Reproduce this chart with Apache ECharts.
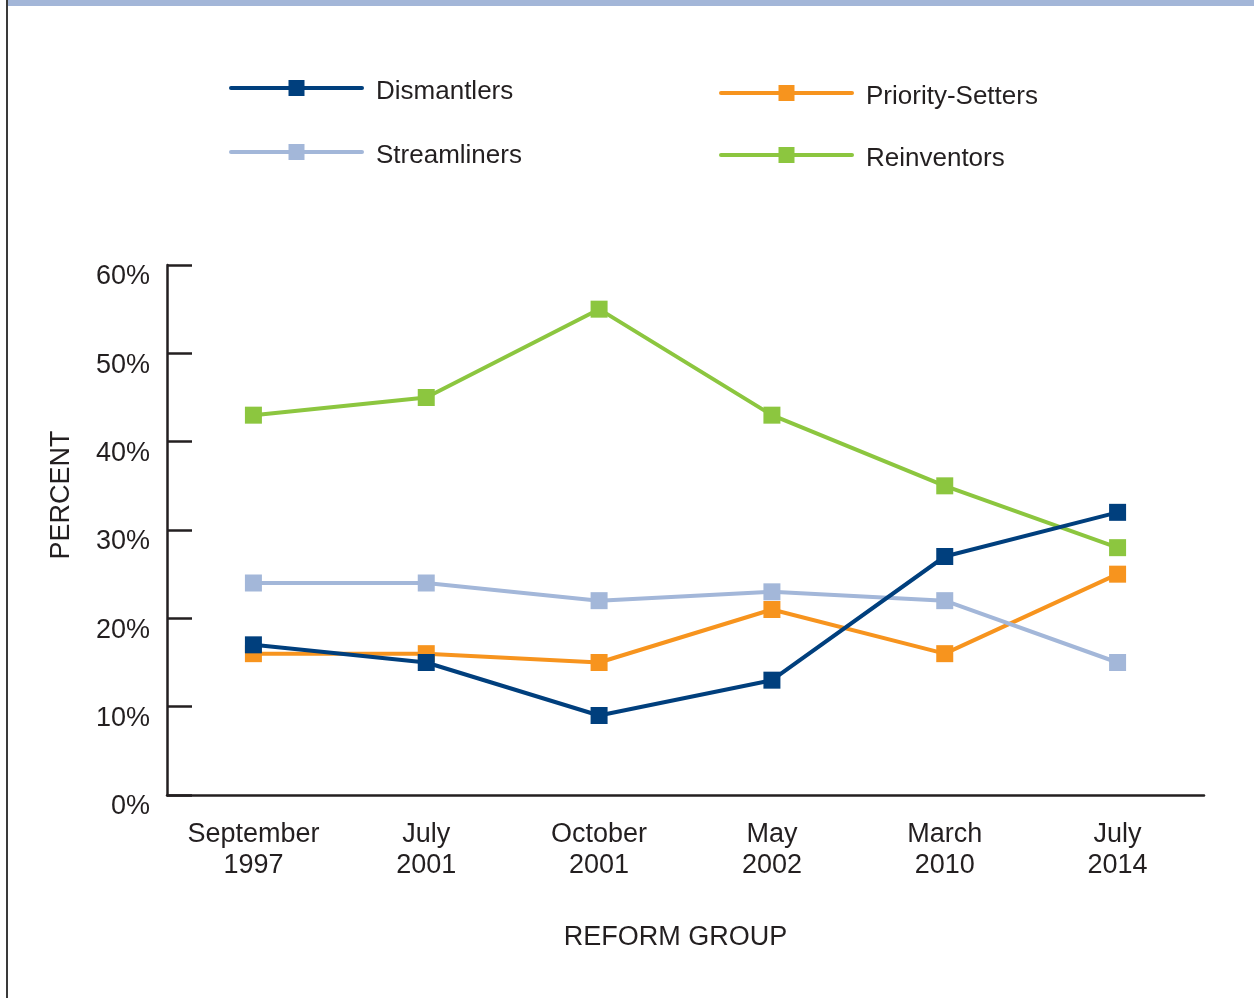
<!DOCTYPE html>
<html>
<head>
<meta charset="utf-8">
<title>Reform group</title>
<script src="https://cdn.jsdelivr.net/npm/echarts@6/dist/echarts.min.js"></script>
<style>
    html, body {
        margin: 0;
        padding: 0;
        background: #fff;
    }
    #chart {
        width: 1254px;
        height: 998px;
    }
</style>
</head>
<body>
<div id="chart"></div>
<script>
// categories (x axis)
let categories = ['September\n1997', 'July\n2001', 'October\n2001', 'May\n2002', 'March\n2010', 'July\n2014']
// series values, percent
let dismantlers = [17, 15, 9, 13, 27, 32]
let streamliners = [24, 24, 22, 23, 22, 15]
let prioritySetters = [16, 16, 15, 21, 16, 25]
let reinventors = [43, 45, 55, 43, 35, 28]
// y axis ticks
let yMin = 0
let yMax = 60
let yStep = 10

let colors = ['#003f7d', '#a3b7d9', '#f7941e', '#8cc63f']
let textColor = '#231f20'
let font = 'Liberation Sans, Arial, sans-serif'
let fontSize = 27

let myChart = echarts.init(document.getElementById('chart'))

let makeSeries = (name, data, color, z) => {
    return {
        name: name,
        type: 'line',
        data: data,
        symbol: 'rect',
        symbolSize: 17,
        z: z,
        itemStyle: {
            color: color
        },
        lineStyle: {
            width: 4,
            color: color,
            cap: 'round'
        }
    }
}

let makeLegend = (name, left, top) => {
    return {
        data: [name],
        left: left,
        top: top,
        padding: 0,
        itemWidth: 131,
        itemHeight: 20,
        selectedMode: false,
        lineStyle: {
            width: 4,
            cap: 'round'
        },
        // rich text so the label sits a bit lower than the icon, like the original
        formatter: '{t|{name}}',
        textStyle: {
            fontSize: 26,
            fontFamily: font,
            color: textColor,
            rich: {
                t: {
                    fontSize: 26,
                    fontFamily: font,
                    color: textColor,
                    lineHeight: 26,
                    padding: [8, 0, 0, 9]
                }
            }
        }
    }
}

let option = {
    animation: false,
    // page frame: light blue band on top, dark rule on the left
    graphic: [
        {
            type: 'rect',
            shape: { x: 7, y: 0, width: 1254, height: 6 },
            style: { fill: '#a3b6d8' }
        },
        {
            type: 'line',
            shape: { x1: 7, y1: 0, x2: 7, y2: 998 },
            style: { stroke: '#3a3a3a', lineWidth: 2 }
        }
    ],
    legend: [
        makeLegend('Dismantlers', 229, 71),
        makeLegend('Streamliners', 229, 135),
        makeLegend('Priority-Setters', 719, 76),
        makeLegend('Reinventors', 719, 138)
    ],
    grid: {
        left: 167,
        top: 265,
        width: 1037,
        height: 530
    },
    xAxis: {
        type: 'category',
        data: categories,
        boundaryGap: true,
        name: 'REFORM GROUP',
        nameLocation: 'middle',
        nameGap: 129,
        nameTextStyle: {
            fontSize: fontSize,
            fontFamily: font,
            color: textColor,
            padding: [0, 20, 0, 0]
        },
        axisLine: {
            lineStyle: { color: textColor, width: 2.5 }
        },
        axisTick: {
            inside: true,
            length: 18,
            lineStyle: { color: textColor, width: 2.5 }
        },
        axisLabel: {
            fontSize: fontSize,
            fontFamily: font,
            color: textColor,
            lineHeight: 31,
            margin: 24
        },
        splitLine: { show: false }
    },
    yAxis: {
        type: 'value',
        min: yMin,
        max: yMax,
        interval: yStep,
        name: 'PERCENT',
        nameLocation: 'middle',
        nameGap: 92,
        nameTextStyle: {
            fontSize: fontSize,
            fontFamily: font,
            color: textColor,
            padding: [0, 0, 0, 70]
        },
        axisLine: {
            show: true,
            lineStyle: { color: textColor, width: 2.5 }
        },
        axisTick: {
            show: true,
            inside: true,
            length: 25,
            lineStyle: { color: textColor, width: 2.5 }
        },
        axisLabel: {
            fontSize: fontSize,
            fontFamily: font,
            color: textColor,
            margin: 17,
            verticalAlign: 'top',
            lineHeight: 24,
            formatter: '{value}%'
        },
        splitLine: { show: false }
    },
    series: [
        makeSeries('Reinventors', reinventors, colors[3], 2),
        makeSeries('Priority-Setters', prioritySetters, colors[2], 3),
        makeSeries('Streamliners', streamliners, colors[1], 4),
        makeSeries('Dismantlers', dismantlers, colors[0], 5)
    ]
}

option && myChart.setOption(option)
window.addEventListener('resize', function () {
    myChart.resize()
})
</script>
</body>
</html>
